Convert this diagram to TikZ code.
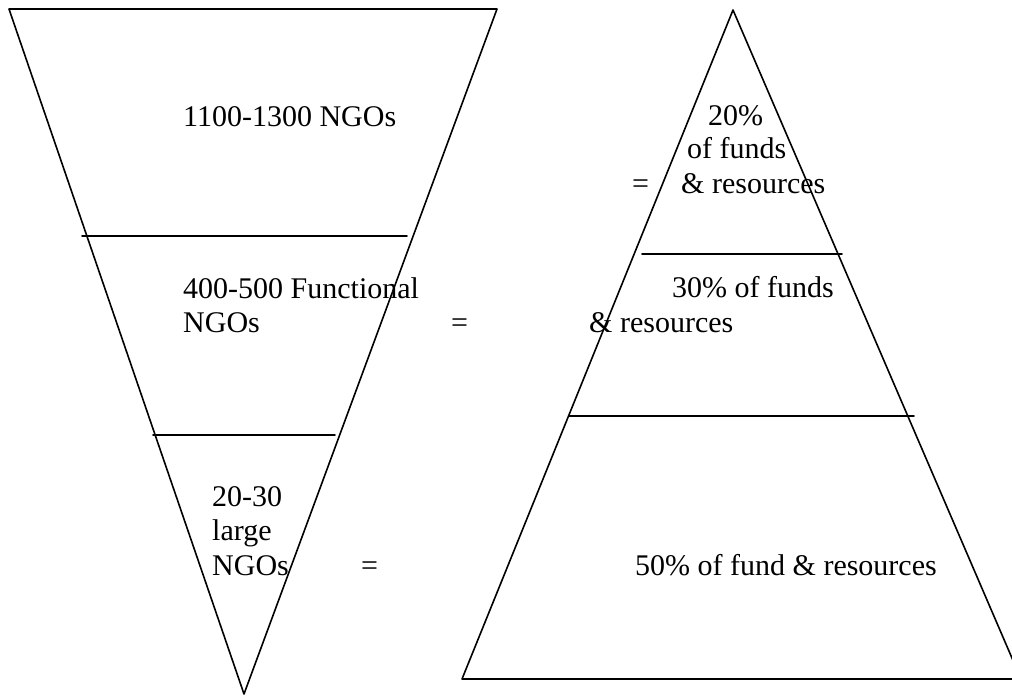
\documentclass[tikz,border=0pt]{standalone}
\usepackage{fontspec}
\setmainfont{Liberation Serif}
\usetikzlibrary{positioning}

\begin{document}
\begin{tikzpicture}[x=1pt, y=-1pt, line cap=round, line join=round,
    edge/.style={line width=1.6pt},
    lbl/.style={anchor=base west, inner sep=0pt, font=\fontsize{30}{34.5}\selectfont}]
        \useasboundingbox (0,0) rectangle (1012,696);
        % inverted triangle: NGO counts
        \coordinate (ngoL) at (9,9);
        \coordinate (ngoR) at (497,9);
        \coordinate (ngoTip) at (244,694);
        \draw[edge] (ngoL) -- (ngoR) -- (ngoTip) -- cycle;
        \draw[edge] (82,236) -- (407,236);
        \draw[edge] (153,435) -- (335,435);
        % pyramid: funds and resources
        \coordinate (fundTip) at (733,10);
        \coordinate (fundL) at (462,679);
        \coordinate (fundR) at (1021,679);
        \draw[edge] (fundTip) -- (fundR) -- (fundL) -- cycle;
        \draw[edge] (642,254) -- (842,254);
        \draw[edge] (569,416) -- (914,416);
        % labels, left
        \node[lbl] (ngoA) at (183,126) {1100-1300 NGOs};
        \node[lbl] (ngoB1) at (183,298) {400-500 Functional};
        \node[lbl] (ngoB2) at (183,332) {NGOs};
        \node[lbl] (ngoC1) at (212,506) {20-30};
        \node[lbl] (ngoC2) at (212,540) {large};
        \node[lbl] (ngoC3) at (212,575) {NGOs};
        % equals signs
        \node[lbl] (eqA) at (632,193) {=};
        \node[lbl] (eqB) at (451,332) {=};
        \node[lbl] (eqC) at (361,575) {=};
        % labels, right
        \node[lbl] (fundA1) at (708,125) {20\%};
        \node[lbl] (fundA2) at (687,158) {of funds};
        \node[lbl] (fundA3) at (681,193) {\& resources};
        \node[lbl] (fundB1) at (672,297) {30\% of funds};
        \node[lbl] (fundB2) at (589,332) {\& resources};
        \node[lbl] (fundC) at (635,575) {50\% of fund \& resources};
    \end{tikzpicture}
\end{document}
